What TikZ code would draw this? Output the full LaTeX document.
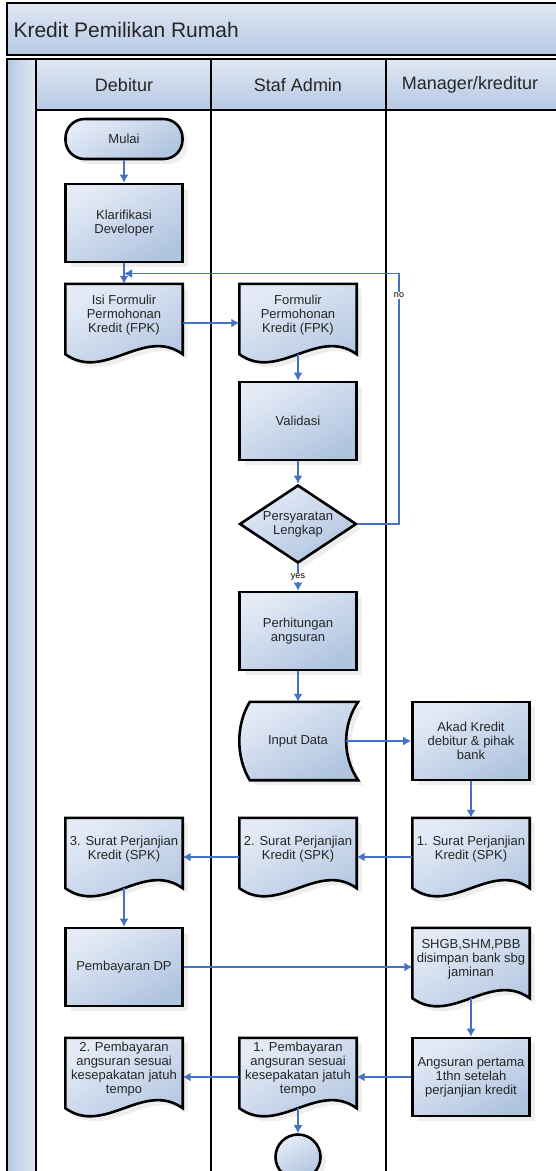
\documentclass[tikz,border=0pt]{standalone}
\usepackage{fontspec}
\setmainfont{Liberation Sans}
\usepackage{tikz}
\usetikzlibrary{positioning,arrows.meta,calc,backgrounds,shapes.geometric,shadows}
\definecolor{flowblue}{RGB}{68,114,196}
\definecolor{boxlight}{RGB}{228,235,246}
\definecolor{boxdark}{RGB}{176,196,224}
\definecolor{lanelight}{RGB}{224,232,243}
\definecolor{lanedark}{RGB}{182,200,227}
\newcommand{\boxfont}{\fontsize{13}{14}\selectfont}
\tikzset{
  lane/.style   ={draw=black, line width=2.6pt},
  head/.style   ={lane, top color=lanelight, bottom color=lanedark},
  shd/.style    ={drop shadow={opacity=0.13, shadow xshift=5pt, shadow yshift=-5pt}},
  proc/.style   ={draw=black, line width=2.6pt, top color=boxlight, bottom color=boxdark,
                  shading angle=30, shd, minimum width=117pt, minimum height=78pt,
                  align=center, font=\boxfont, text=black!85, inner sep=2pt},
  term/.style   ={proc, rounded corners=19pt, minimum height=40pt},
  cond/.style   ={proc, diamond, aspect=1.5, inner sep=0pt},
  doc/.style    ={minimum width=117pt, minimum height=78pt, align=center,
                  font=\boxfont, text=black!85, inner sep=2pt, text depth=19pt},
  store/.style  ={minimum width=96pt, minimum height=78pt, align=center,
                  font=\boxfont, text=black!85, inner sep=2pt},
  docfill/.style={draw=black, line width=2.6pt, top color=boxlight, bottom color=boxdark,
                  shading angle=30, shd},
  ar/.style     ={-{Latex[length=8pt,width=9pt]}, draw=flowblue, line width=1.6pt},
  fromdoc/.style={shorten <=-8pt},
  lbl/.style    ={font=\fontsize{9}{10}\selectfont, fill=white, inner sep=1pt},
}
% document outline with wavy bottom
\newcommand{\docshape}[1]{%
  \path[docfill] (#1.north west) -- (#1.north east)
    -- ($(#1.south east)+(0,-8)$)
    .. controls ($(#1.south east)+(-39,-36)$) and ($(#1.south west)+(39,20)$) .. ($(#1.south west)+(0,-8)$)
    -- cycle;}
% stored data outline
\newcommand{\storeshape}[1]{%
  \path[docfill] (#1.north west) -- ($(#1.north east)+(12,0)$)
    .. controls ($(#1.north east)+(-4,23)$) and ($(#1.south east)+(-4,-23)$) .. ($(#1.south east)+(12,0)$)
    -- (#1.south west)
    .. controls ($(#1.south west)+(-14,-23)$) and ($(#1.north west)+(-14,23)$) .. (#1.north west)
    -- cycle;}

\begin{document}
\begin{tikzpicture}[x=1pt,y=-1pt]
\useasboundingbox (0,0) rectangle (555,1171);
\def\xA{7} \def\xB{36} \def\xC{211} \def\xD{386} \def\xE{562}
\def\yBot{1185}
\begin{scope}[on background layer]
  \fill[white] (0,0) rectangle (555,1171);
\end{scope}

% pool and lanes
\draw[head] (\xA,3) rectangle (\xE,55);
\node[anchor=west,font=\fontsize{21}{24}\selectfont,text=black!85] (judul) at (10,30) {Kredit Pemilikan Rumah};
\draw[lane, left color=lanedark, right color=lanelight] (\xA,59) rectangle (\xB,\yBot);
\draw[head] (\xB,59) rectangle (\xC,110);
\draw[head] (\xC,59) rectangle (\xD,110);
\draw[head] (\xD,59) rectangle (\xE,110);
\draw[lane] (\xB,110) rectangle (\xC,\yBot);
\draw[lane] (\xC,110) rectangle (\xD,\yBot);
\draw[lane] (\xD,110) rectangle (\xE,\yBot);
\node[font=\fontsize{18}{20}\selectfont,text=black!85] (debitur) at (124,85) {Debitur};
\node[font=\fontsize{18}{20}\selectfont,text=black!85] (staf) at (298,85) {Staf Admin};
\node[font=\fontsize{18}{20}\selectfont,text=black!85] (manajer) at (470,85) {Manager/kreditur};

% Debitur
\node[term] (mulai) at (124,139) {Mulai};
\node[proc] (klar) at (124,223) {Klarifikasi\\Developer};
\node[doc] (isi) at (124,323) {Isi Formulir\\Permohonan\\Kredit (FPK)};
\node[doc] (spk3) at (124,857) {3. Surat Perjanjian\\Kredit (SPK)};
\node[proc] (dp) at (124,967) {Pembayaran DP};
\node[doc] (bayar2) at (124,1077) {2. Pembayaran\\angsuran sesuai\\kesepakatan jatuh\\tempo};

% Staf Admin
\node[doc] (fpk) at (298,323) {Formulir\\Permohonan\\Kredit (FPK)};
\node[proc] (valid) at (298,421) {Validasi};
\node[cond] (syarat) at (298,524) {Persyaratan\\Lengkap};
\node[proc] (hitung) at (298,631) {Perhitungan\\angsuran};
\node[store] (input) at (298,741) {Input Data};
\node[doc] (spk2) at (298,857) {2. Surat Perjanjian\\Kredit (SPK)};
\node[doc] (bayar1) at (298,1077) {1. Pembayaran\\angsuran sesuai\\kesepakatan jatuh\\tempo};
\node[proc,circle,minimum size=45pt] (selesai) at (298,1157) {};

% Manager/kreditur
\node[proc] (akad) at (471,741) {Akad Kredit\\debitur \& pihak\\bank};
\node[doc] (spk1) at (471,857) {1. Surat Perjanjian\\Kredit (SPK)};
\node[doc] (jamin) at (471,967) {SHGB,SHM,PBB\\disimpan bank sbg\\jaminan};
\node[proc] (angs) at (471,1077) {Angsuran pertama\\1thn setelah\\perjanjian kredit};

\begin{scope}[on background layer]
  \docshape{isi} \docshape{spk3} \docshape{bayar2}
  \docshape{fpk} \docshape{spk2} \docshape{bayar1}
  \docshape{spk1} \docshape{jamin}
  \storeshape{input}
\end{scope}

% flow
\coordinate (balik) at ($(klar.south)!0.5!(isi.north)$);
\coordinate (belok) at (399,0 |- balik);
\draw[ar] (mulai) -- (klar);
\draw[ar] (klar) -- (isi);
\draw[ar] (isi) -- (fpk);
\draw[ar,fromdoc] (fpk) -- (valid);
\draw[ar] (valid) -- (syarat);
\draw[ar] (syarat.east) -| node[lbl,pos=0.956] {no} (belok) -- (balik);
\draw[ar] (syarat) -- node[lbl] {yes} (hitung);
\draw[ar] (hitung) -- (input);
\draw[ar] (input) -- (akad);
\draw[ar] (akad) -- (spk1);
\draw[ar] (spk1) -- (spk2);
\draw[ar] (spk2) -- (spk3);
\draw[ar,fromdoc] (spk3) -- (dp);
\draw[ar] (dp) -- (jamin);
\draw[ar,fromdoc] (jamin) -- (angs);
\draw[ar] (angs) -- (bayar1);
\draw[ar] (bayar1) -- (bayar2);
\draw[ar,fromdoc] (bayar1) -- (selesai);
\end{tikzpicture}
\end{document}
